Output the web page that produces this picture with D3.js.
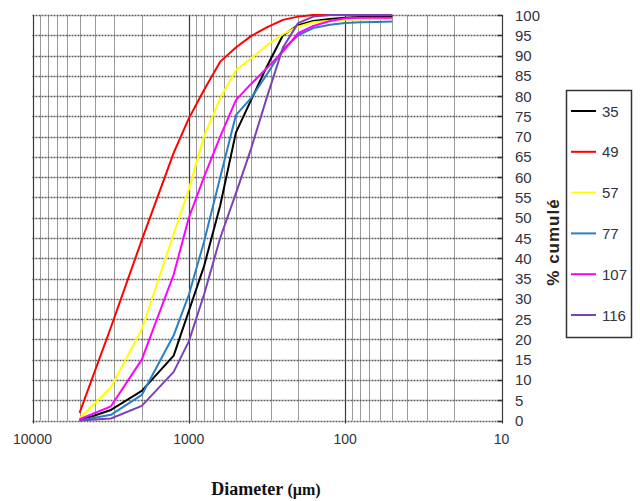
<!DOCTYPE html>
<html>
<head>
<meta charset="utf-8">
<script src="https://cdn.jsdelivr.net/npm/d3@7"></script>
<style>
  body { margin: 0; background: #fff; }
  svg { display: block; font-family: "Liberation Sans", Arial, sans-serif; }
</style>
</head>
<body>
<svg class="chart" width="640" height="501"></svg>
<script>
// sieve sizes (µm) and cumulative % for each sample
var sizes = [5000, 3150, 2000, 1250, 1000, 800, 630, 500, 400, 315, 250, 200, 160, 125, 100, 80, 63, 50];
var s35  = [0, 2.6, 7.3, 16, 27, 38, 53, 71, 79, 87.5, 95, 97.5, 98.5, 99, 99.3, 99.5, 99.6, 99.6];
var s49  = [1.9, 23, 44.5, 66, 74.5, 81.5, 88.5, 92, 94.8, 97, 98.8, 99.6, 100, 100, 100, 100, 100, 100];
var s57  = [0.5, 8.2, 22.5, 46, 57, 70, 79.5, 86.4, 89.3, 92.6, 95.3, 97.1, 98.2, 98.6, 98.8, 98.9, 99, 99];
var s77  = [0, 1.4, 6.3, 21, 31, 44, 60, 75.3, 79.5, 85.5, 91.5, 95, 96.8, 97.6, 98, 98.2, 98.3, 98.4];
var s107 = [0.3, 3.5, 15, 36, 50, 60, 70, 79, 83, 87, 91, 95.5, 97.3, 98.5, 99.2, 99.3, 99.3, 99.3];
var s116 = [0, 0.5, 3.6, 12, 19.5, 31, 45, 56, 67, 80, 92, 98, 99.6, 100, 100, 100, 100, 100];

var seriesNames = ["35", "49", "57", "77", "107", "116"];
var seriesValues = [s35, s49, s57, s77, s107, s116];
var colors = ["#000000", "#ff0000", "#ffff00", "#2a7fc4", "#ff00ff", "#7b42b5"];

var xTicks = [10000, 1000, 100, 10];
var yTicks = d3.range(0, 101, 5);

var pLeft = 32.5, pRight = 501.5, pTop = 15, pBottom = 420.5;

var svg = d3.select("svg.chart");

var x = d3.scaleLog().domain([10000, 10]).range([pLeft, pRight]);
var y = d3.scaleLinear().domain([0, 100]).range([pBottom, pTop]);

// minor vertical grid (2..9 x decade)
var minor = [];
[10, 100, 1000].forEach(function(dec) {
  for (var k = 2; k <= 9; k++) minor.push(dec * k);
});

svg.append("g").selectAll("line")
  .data(minor).enter().append("line")
  .attr("x1", function(d) { return Math.round(x(d)) + 0.5; })
  .attr("x2", function(d) { return Math.round(x(d)) + 0.5; })
  .attr("y1", pTop).attr("y2", pBottom)
  .attr("stroke", "#9a9a9a").attr("stroke-width", 1);

// horizontal dashed grid
svg.append("g").selectAll("line")
  .data(yTicks).enter().append("line")
  .attr("x1", pLeft).attr("x2", pRight)
  .attr("y1", function(d) { return Math.round(y(d)) + 0.5; })
  .attr("y2", function(d) { return Math.round(y(d)) + 0.5; })
  .attr("stroke", "#5e5e5e").attr("stroke-width", 1.3)
  .attr("stroke-dasharray", "2,1");

// decade lines
svg.append("g").selectAll("line")
  .data(xTicks).enter().append("line")
  .attr("x1", function(d) { return Math.round(x(d)) + 0.5; })
  .attr("x2", function(d) { return Math.round(x(d)) + 0.5; })
  .attr("y1", pTop).attr("y2", pBottom + 3)
  .attr("stroke", "#3a3a3a").attr("stroke-width", 1.2);

// right axis ticks
svg.append("g").selectAll("line")
  .data(yTicks).enter().append("line")
  .attr("x1", pRight - 4).attr("x2", pRight + 1)
  .attr("y1", function(d) { return Math.round(y(d)) + 0.5; })
  .attr("y2", function(d) { return Math.round(y(d)) + 0.5; })
  .attr("stroke", "#333").attr("stroke-width", 1.5);

// curves
var line = d3.line()
  .x(function(d, i) { return x(sizes[i]); })
  .y(function(d) { return y(d); });

svg.append("g").selectAll("path")
  .data(seriesValues).enter().append("path")
  .attr("d", function(d) { return line(d); })
  .attr("fill", "none")
  .attr("stroke", function(d, i) { return colors[i]; })
  .attr("stroke-width", 2)
  .attr("stroke-linejoin", "round");

// tick labels
svg.append("g").selectAll("text")
  .data(yTicks).enter().append("text")
  .attr("x", 515)
  .attr("y", function(d) { return y(d) + 5.5; })
  .attr("font-size", 15)
  .attr("fill", "#333340")
  .text(function(d) { return d; });

svg.append("g").selectAll("text")
  .data(xTicks).enter().append("text")
  .attr("x", function(d) { return x(d); })
  .attr("y", 444)
  .attr("text-anchor", "middle")
  .attr("font-size", 14)
  .attr("fill", "#333340")
  .text(function(d) { return d; });

// axis titles
var xt = svg.append("text")
  .attr("x", 266).attr("y", 495)
  .attr("text-anchor", "middle")
  .attr("font-family", "Liberation Serif, Times New Roman, serif")
  .attr("font-weight", "bold")
  .attr("font-size", 18)
  .attr("fill", "#111");
xt.append("tspan").text("Diameter ");
xt.append("tspan").attr("font-size", 16).text(" (µm)");

svg.append("text")
  .attr("transform", "translate(559,242) rotate(-90)")
  .attr("text-anchor", "middle")
  .attr("font-weight", "bold")
  .attr("font-size", 17)
  .attr("letter-spacing", 1)
  .attr("fill", "#2a2218")
  .text("% cumulé");

// legend
var lg = svg.append("g");
lg.append("rect")
  .attr("x", 566.5).attr("y", 90.5)
  .attr("width", 65).attr("height", 247)
  .attr("fill", "#fff").attr("stroke", "#333").attr("stroke-width", 1.5);

var items = lg.selectAll("g.item")
  .data(seriesNames).enter().append("g")
  .attr("transform", function(d, i) { return "translate(0," + (111 + i * 40.8) + ")"; });

items.append("line")
  .attr("x1", 571).attr("x2", 596)
  .attr("stroke", function(d, i) { return colors[i]; })
  .attr("stroke-width", 2);

items.append("text")
  .attr("x", 602).attr("y", 5.5)
  .attr("font-size", 15)
  .attr("fill", "#333340")
  .text(function(d) { return d; });
</script>
</body>
</html>
